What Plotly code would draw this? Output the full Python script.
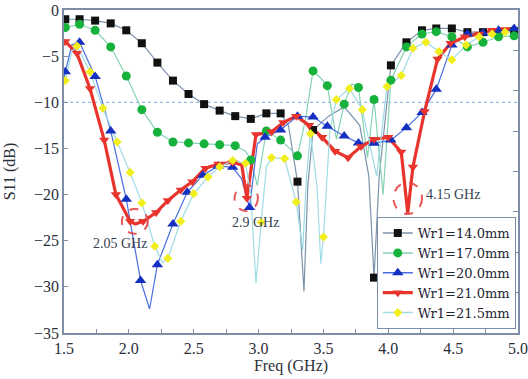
import plotly.graph_objects as go

# ---------------- data ----------------
names = ["Wr1=14.0mm", "Wr1=17.0mm", "Wr1=20.0mm", "Wr1=21.0mm", "Wr1=21.5mm"]

# Wr1 = 14.0 mm
f14 = [1.50, 1.51, 1.62, 1.74, 1.86, 1.98, 2.10, 2.22, 2.34, 2.46, 2.58, 2.70, 2.82, 2.94, 3.06, 3.17,
       3.23, 3.30, 3.35, 3.38, 3.42, 3.54, 3.66, 3.78, 3.85, 3.89, 3.93, 4.02, 4.14, 4.26, 4.37, 4.49,
       4.61, 4.73, 4.85, 4.97, 5.00]
s14 = [-1.0, -1.0, -1.0, -1.15, -1.45, -2.2, -3.6, -5.7, -7.65, -9.1, -10.2, -10.9, -11.5, -11.8, -11.2, -11.2,
       -12.5, -18.6, -30.5, -19.0, -13.0, -11.5, -10.5, -12.5, -18.0, -29.0, -18.0, -6.0, -3.5, -2.2, -2.0, -2.0,
       -2.4, -2.4, -2.4, -2.3, -2.3]
mf14 = [1.51, 1.62, 1.74, 1.86, 1.98, 2.10, 2.22, 2.34, 2.46, 2.58, 2.70, 2.82, 2.94, 3.06, 3.17, 3.30, 3.42,
        3.89, 4.02, 4.14, 4.26, 4.37, 4.49, 4.61, 4.73, 4.85, 4.97]
ms14 = [-1.0, -1.0, -1.15, -1.45, -2.2, -3.6, -5.7, -7.65, -9.1, -10.2, -10.9, -11.5, -11.8, -11.2, -11.2, -18.6, -13.0,
        -29.0, -6.0, -3.5, -2.2, -2.0, -2.0, -2.4, -2.4, -2.4, -2.3]

# Wr1 = 17.0 mm
f17 = [1.50, 1.51, 1.62, 1.74, 1.86, 1.98, 2.10, 2.22, 2.34, 2.46, 2.58, 2.70, 2.82, 2.90, 2.94, 2.99, 3.06,
       3.17, 3.30, 3.36, 3.42, 3.48, 3.53, 3.60, 3.66, 3.72, 3.77, 3.84, 3.89, 3.96, 4.02, 4.14, 4.26, 4.37,
       4.49, 4.61, 4.73, 4.85, 4.97, 5.00]
s17 = [-2.0, -1.9, -1.55, -2.2, -4.0, -7.15, -10.8, -13.25, -14.3, -14.4, -14.5, -14.6, -14.7, -15.3, -16.25, -19.0, -13.1,
       -14.1, -15.8, -12.0, -6.6, -7.4, -8.2, -14.0, -10.2, -8.0, -8.4, -16.0, -9.7, -20.0, -7.6, -4.0, -2.6, -2.35,
       -2.9, -4.0, -3.5, -2.9, -2.8, -2.8]
mf17 = [1.51, 1.62, 1.74, 1.86, 1.98, 2.10, 2.22, 2.34, 2.46, 2.58, 2.70, 2.82, 2.94, 3.06, 3.17, 3.30, 3.42,
        3.53, 3.66, 3.77, 3.89, 4.02, 4.14, 4.26, 4.37, 4.49, 4.61, 4.73, 4.85, 4.97]
ms17 = [-1.9, -1.55, -2.2, -4.0, -7.15, -10.8, -13.25, -14.3, -14.4, -14.5, -14.6, -14.7, -16.25, -13.1, -14.1, -15.8,
        -6.6, -8.2, -10.2, -8.4, -9.7, -7.6, -4.0, -2.6, -2.35, -2.9, -4.0, -3.5, -2.9, -2.8]

# Wr1 = 20.0 mm
f20 = [1.50, 1.51, 1.56, 1.62, 1.74, 1.86, 1.98, 2.09, 2.16, 2.22, 2.34, 2.45, 2.57, 2.69, 2.80, 2.87, 2.93,
       2.99, 3.05, 3.17, 3.30, 3.42, 3.53, 3.66, 3.77, 3.89, 4.02, 4.14, 4.26, 4.37, 4.49, 4.61, 4.73, 4.85,
       4.97, 5.00]
s20 = [-7.4, -6.7, -3.8, -3.5, -7.2, -13.1, -20.5, -29.3, -32.4, -27.6, -23.2, -19.75, -17.9, -16.9, -17.05, -18.3, -21.4,
       -14.5, -13.8, -13.0, -11.5, -11.6, -12.6, -13.65, -14.4, -14.45, -14.1, -12.75, -11.1, -8.6, -3.8, -2.6, -2.5, -2.2,
       -2.0, -2.0]
mf20 = [1.51, 1.62, 1.74, 1.86, 1.98, 2.09, 2.22, 2.34, 2.45, 2.57, 2.69, 2.80, 2.93, 3.05, 3.17, 3.30, 3.42,
        3.53, 3.66, 3.77, 3.89, 4.02, 4.14, 4.26, 4.37, 4.49, 4.61, 4.73, 4.85, 4.97]
ms20 = [-6.7, -3.5, -7.2, -13.1, -20.5, -29.3, -27.6, -23.2, -19.75, -17.9, -16.9, -17.05, -21.4, -13.8, -13.0, -11.5,
        -11.6, -12.6, -13.65, -14.4, -14.45, -14.1, -12.75, -11.1, -8.6, -3.8, -2.6, -2.5, -2.2, -2.0]

# Wr1 = 21.0 mm
f21 = [1.50, 1.51, 1.60, 1.70, 1.81, 1.90, 2.01, 2.05, 2.11, 2.21, 2.30, 2.40, 2.49, 2.59, 2.69, 2.80, 2.87,
       2.91, 2.98, 3.10, 3.19, 3.29, 3.39, 3.49, 3.59, 3.69, 3.79, 3.89, 4.00, 4.10, 4.15, 4.19, 4.28, 4.38,
       4.48, 4.59, 4.70, 4.80, 4.90, 5.00]
s21 = [-3.6, -3.4, -4.7, -8.5, -14.1, -20.0, -22.9, -23.2, -22.9, -21.95, -20.65, -19.5, -18.6, -17.15, -16.7, -16.5, -16.8,
       -20.4, -13.5, -13.2, -12.2, -11.5, -12.5, -13.8, -15.3, -16.0, -14.8, -14.0, -13.8, -15.4, -22.0, -17.0, -11.0, -5.3,
       -3.6, -2.9, -2.6, -2.2, -2.1, -2.1]
mf21 = [1.51, 1.60, 1.70, 1.81, 1.90, 2.01, 2.11, 2.21, 2.30, 2.40, 2.49, 2.59, 2.69, 2.80, 2.91, 2.98, 3.10,
        3.19, 3.29, 3.39, 3.49, 3.59, 3.69, 3.79, 3.89, 4.00, 4.10, 4.19, 4.28, 4.38, 4.48, 4.59, 4.70, 4.80, 4.90]
ms21 = [-3.4, -4.7, -8.5, -14.1, -20.0, -22.9, -22.9, -21.95, -20.65, -19.5, -18.6, -17.15, -16.7, -16.5, -20.4, -13.5,
        -13.2, -12.2, -11.5, -12.5, -13.8, -15.3, -16.0, -14.8, -14.0, -13.8, -15.4, -17.0, -11.0, -5.3, -3.6, -2.9, -2.6,
        -2.2, -2.1]

# Wr1 = 21.5 mm
f215 = [1.50, 1.51, 1.56, 1.60, 1.70, 1.80, 1.91, 2.01, 2.10, 2.20, 2.26, 2.30, 2.40, 2.50, 2.61, 2.70, 2.80,
        2.90, 2.94, 2.98, 3.02, 3.06, 3.10, 3.20, 3.29, 3.34, 3.37, 3.40, 3.45, 3.48, 3.50, 3.55, 3.60, 3.70,
        3.80, 3.91, 3.99, 4.10, 4.19, 4.29, 4.39, 4.49, 4.60, 4.70, 4.80, 4.90, 5.00]
s215 = [-8.0, -7.65, -4.5, -3.9, -6.7, -10.65, -14.3, -17.6, -20.9, -25.6, -27.4, -26.9, -22.9, -19.9, -18.1, -17.0, -16.3,
        -16.6, -20.0, -29.6, -23.0, -17.0, -16.0, -16.1, -20.8, -26.0, -18.0, -13.4, -19.0, -27.5, -24.6, -13.0, -9.7, -8.5,
        -10.8, -18.0, -8.3, -7.1, -4.15, -3.5, -4.5, -5.4, -3.8, -2.9, -2.6, -2.4, -2.3]
mf215 = [1.51, 1.60, 1.70, 1.80, 1.91, 2.01, 2.10, 2.20, 2.30, 2.40, 2.50, 2.61, 2.70, 2.80, 2.90, 3.02, 3.10,
         3.20, 3.29, 3.40, 3.50, 3.60, 3.70, 3.80, 3.99, 4.10, 4.19, 4.29, 4.39, 4.49, 4.60, 4.70, 4.80, 4.90]
ms215 = [-7.65, -3.9, -6.7, -10.65, -14.3, -17.6, -20.9, -25.6, -26.9, -22.9, -19.9, -18.1, -17.0, -16.3, -16.6, -23.0,
         -16.0, -16.1, -20.8, -13.4, -24.6, -9.7, -8.5, -10.8, -8.3, -7.1, -4.15, -3.5, -4.5, -5.4, -3.8, -2.9, -2.6, -2.4]

# annotated resonances
ann_text = ["2.05 GHz", "2.9 GHz", "4.15 GHz"]
ann_x = [1.93, 2.98, 4.50]
ann_y = [-25.35, -23.05, -20.0]
circ_x = [2.046, 2.905, 4.15]
circ_y = [-22.9, -20.4, -20.4]
circ_rx = [0.10, 0.09, 0.11]
circ_ry = [1.35, 1.4, 1.7]

# ---------------- styling ----------------
SERIF = "Liberation Serif, Times New Roman, serif"
LEGFONT = "DejaVu Serif, serif"
series = [
    (f14, s14, mf14, ms14, "#7c93ad", 1.2, "#111111", "square", 8),
    (f17, s17, mf17, ms17, "#86d2b4", 1.2, "#17b23c", "circle", 9),
    (f20, s20, mf20, ms20, "#4a6ee0", 1.2, "#1530c0", "triangle-up", 10),
    (f21, s21, mf21, ms21, "#e8342c", 3.2, "#e8342c", "triangle-down", 9),
    (f215, s215, mf215, ms215, "#9fdbe6", 1.2, "#f2ee1e", "diamond", 7),
]

fig = go.Figure()
for name, (fx, sy, mx, my, lc, lw, mc, sym, msz) in zip(names, series):
    fig.add_trace(go.Scatter(x=fx, y=sy, mode="lines", line=dict(color=lc, width=lw),
                             showlegend=False, hoverinfo="skip"))
for name, (fx, sy, mx, my, lc, lw, mc, sym, msz) in zip(names, series):
    fig.add_trace(go.Scatter(x=mx, y=my, mode="markers",
                             marker=dict(color=mc, symbol=sym, size=msz, line=dict(width=0)),
                             showlegend=False))
for name, (fx, sy, mx, my, lc, lw, mc, sym, msz) in zip(names, series):
    fig.add_trace(go.Scatter(x=[None], y=[None], mode="lines+markers", name=name,
                             line=dict(color=lc, width=max(lw, 1.5)),
                             marker=dict(color=mc, symbol=sym, size=msz)))

# -10 dB reference line
fig.add_hline(y=-10, line=dict(color="#7fa9d6", width=1, dash="dot"), layer="below")

for cx, cy, rx, ry in zip(circ_x, circ_y, circ_rx, circ_ry):
    fig.add_shape(type="circle", xref="x", yref="y", x0=cx - rx, x1=cx + rx, y0=cy - ry, y1=cy + ry,
                  line=dict(color="rgba(228,60,60,0.85)", width=2, dash="dash"))

for t, ax_, ay_ in zip(ann_text, ann_x, ann_y):
    fig.add_annotation(x=ax_, y=ay_, text=t, showarrow=False,
                       font=dict(family=SERIF, size=14, color="#34404f"))

axcol = "#7d8ea6"
fig.update_layout(
    width=528, height=379,
    margin=dict(l=64, r=10, t=10, b=46, autoexpand=False),
    paper_bgcolor="white", plot_bgcolor="white",
    font=dict(family=SERIF, size=16, color="#2b2f3a"),
    xaxis=dict(range=[1.5, 5.0], tickvals=[1.5, 2.0, 2.5, 3.0, 3.5, 4.0, 4.5, 5.0],
               ticktext=["1.5", "2.0", "2.5", "3.0", "3.5", "4.0", "4.5", "5.0"],
               ticks="inside", ticklen=4, tickcolor=axcol,
               minor=dict(dtick=0.25, ticks="inside", ticklen=4, tickcolor=axcol),
               showline=True, linecolor=axcol, linewidth=1.5, mirror=True,
               showgrid=False, zeroline=False, automargin=False,
               title=dict(text="Freq (GHz)", standoff=2, font=dict(size=16))),
    yaxis=dict(range=[-35, 0], tickvals=[0, -5, -10, -15, -20, -25, -30, -35],
               ticks="inside", ticklen=4, tickcolor=axcol,
               showline=True, linecolor=axcol, linewidth=1.5, mirror=True,
               showgrid=False, zeroline=False, automargin=False,
               title=dict(text="S11 (dB)", standoff=14, font=dict(size=16))),
    yaxis2=dict(range=[0, 8], dtick=1, overlaying="y", side="right", ticks="inside",
                ticklen=5, tickcolor=axcol, showticklabels=False, showgrid=False,
                zeroline=False, showline=False, automargin=False),
    legend=dict(x=0.689, y=0.359, xanchor="left", yanchor="top",
                bgcolor="white", bordercolor=axcol, borderwidth=1,
                font=dict(family=LEGFONT, size=13, color="#1e2330"),
                tracegroupgap=0, itemwidth=30),
    showlegend=True,
)
# invisible trace to activate the right-hand tick axis
fig.add_trace(go.Scatter(x=[None], y=[None], yaxis="y2", showlegend=False))

fig.write_html("out.html")
